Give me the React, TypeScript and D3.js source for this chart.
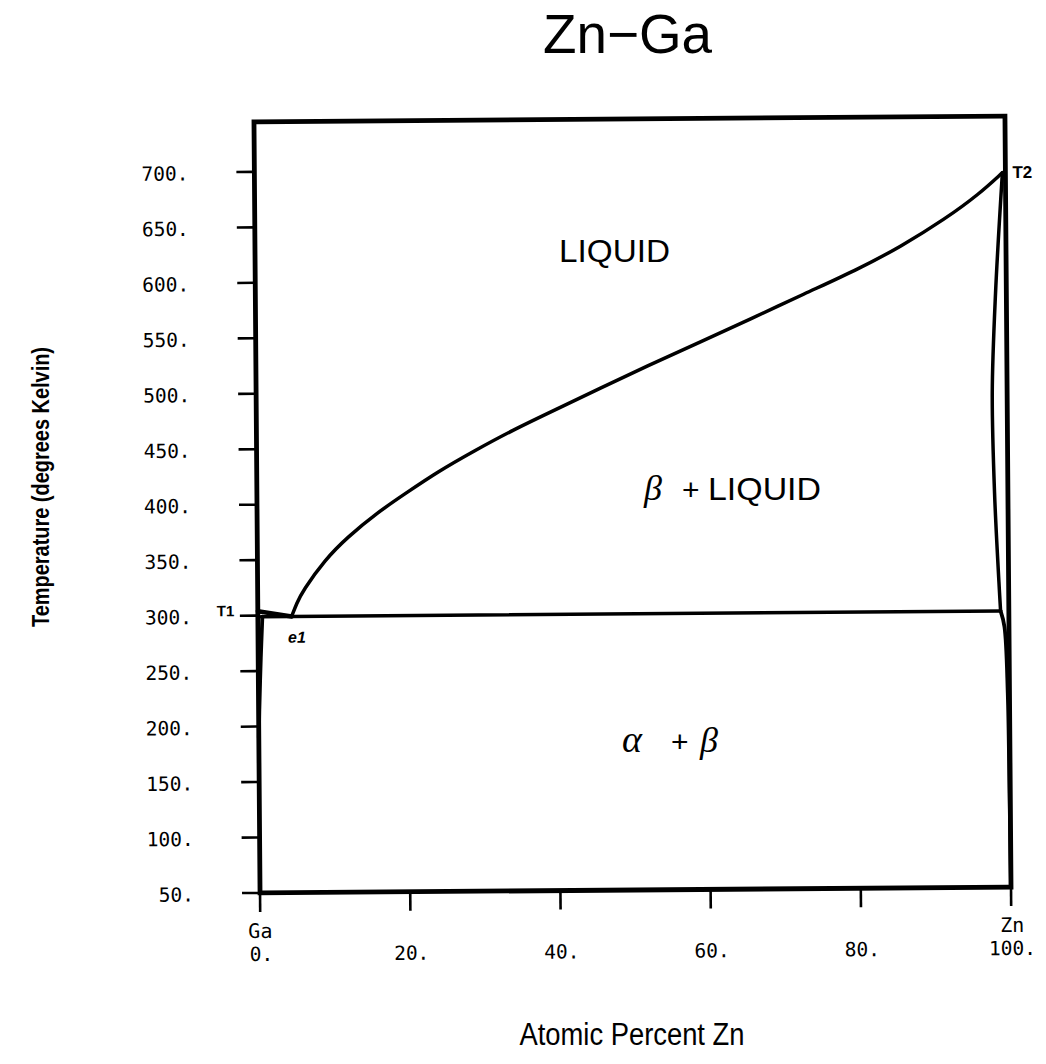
import React from 'react';
import * as d3 from 'd3';

// ---- data (atomic % Zn, temperature K) ----
const xTicks = [0, 20, 40, 60, 80, 100];
const yTicks = [50, 100, 150, 200, 250, 300, 350, 400, 450, 500, 550, 600, 650, 700];
const xEndNames = ['Ga', 'Zn'];

const liquidusZn: [number, number][] = [
  [4.5, 299], [5.2, 311], [6, 322], [9, 350], [12, 370], [16, 392], [20, 410], [24, 428],
  [29, 447], [34, 465], [40, 484], [46, 503], [52, 522], [59, 543], [66, 564],
  [73, 586], [80, 607], [86, 628], [92, 653], [96.5, 675], [99.6, 694],
];
const liquidusGa: [number, number][] = [[0, 304], [4.5, 299]];
const eutectic: [number, number][] = [[0.4, 299], [98.9, 299]];
const solidusZn: [number, number][] = [
  [99.6, 694], [98.56, 585.5], [98.02, 495.5], [98.22, 405.3], [98.78, 315.1], [98.9, 299],
];
const solvusZn: [number, number][] = [
  [98.9, 299], [99.4, 284.7], [99.77, 224.8], [99.9, 134.8], [100, 50],
];
const solvusGa: [number, number][] = [[0.6, 299], [0.35, 262], [0.1, 215], [0, 190]];

const W = 1046;
const H = 1064;
const xS = d3.scaleLinear().domain([0, 100]).range([257, 1008]);
const yS = d3.scaleLinear().domain([50, 745]).range([890, 119]);

const smoothGen = d3
  .line<[number, number]>()
  .x((d) => xS(d[0]))
  .y((d) => yS(d[1]))
  .curve(d3.curveBasis);
const lineGen = d3
  .line<[number, number]>()
  .x((d) => xS(d[0]))
  .y((d) => yS(d[1]))
  .curve(d3.curveCatmullRom.alpha(0.5));
const straight = d3
  .line<[number, number]>()
  .x((d) => xS(d[0]))
  .y((d) => yS(d[1]));

const mono = '"DejaVu Sans Mono", monospace';
const sans = '"Liberation Sans", Arial, sans-serif';
const serif = '"Liberation Serif", "DejaVu Serif", serif';

export default function App() {
  const [x0, x1] = xS.range();
  const [yb, yt] = yS.range();
  return (
    <svg
      width={W}
      height={H}
      viewBox={`0 0 ${W} ${H}`}
      style={{ position: 'absolute', left: 0, top: 0, background: '#fff' }}
    >
      <rect x={0} y={0} width={W} height={H} fill="#fff" />
      <g transform="rotate(-0.45 632 505)">
        {/* frame */}
        <rect x={x0} y={yt} width={x1 - x0} height={yb - yt} fill="none" stroke="#000" strokeWidth={4.8} />
        {/* y ticks */}
        {yTicks.map((t) => (
          <g key={'y' + t}>
            <line x1={x0} x2={x0 - 18} y1={yS(t)} y2={yS(t)} stroke="#000" strokeWidth={2.6} />
            <text x={191} y={yS(t) + 8} textAnchor="end" fontFamily={mono} fontSize={19.5} fill="#000">
              {`${t}.`}
            </text>
          </g>
        ))}
        {/* x ticks */}
        {xTicks.map((t) => (
          <g key={'x' + t}>
            <line x1={xS(t)} x2={xS(t)} y1={yb} y2={yb + 19} stroke="#000" strokeWidth={2.6} />
            <text x={xS(t) + 1} y={958} textAnchor="middle" fontFamily={mono} fontSize={19.5} fill="#000">
              {`${t}.`}
            </text>
          </g>
        ))}
        <text x={xS(0)} y={935} textAnchor="middle" fontFamily={mono} fontSize={20} fill="#000">
          {xEndNames[0]}
        </text>
        <text x={xS(100) + 1} y={935} textAnchor="middle" fontFamily={mono} fontSize={20} fill="#000">
          {xEndNames[1]}
        </text>

        {/* phase boundaries */}
        <g fill="none" stroke="#000" strokeWidth={3.5} strokeLinejoin="round" strokeLinecap="round">
          <path d={smoothGen(liquidusZn) || ''} />
          <path d={straight(liquidusGa) || ''} strokeWidth={4.5} />
          <path d={straight(eutectic) || ''} />
          <path d={lineGen(solidusZn) || ''} />
          <path d={lineGen(solvusZn) || ''} strokeWidth={3.8} />
          <path d={lineGen(solvusGa) || ''} strokeWidth={3.8} />
        </g>

        {/* point labels */}
        <text x={233.5} y={613} textAnchor="end" fontFamily={sans} fontWeight="bold" fontSize={15} fill="#000">
          T1
        </text>
        <text x={1015} y={181} fontFamily={sans} fontWeight="bold" fontSize={17} fill="#000">
          T2
        </text>
        <text x={287} y={640} fontFamily={sans} fontWeight="bold" fontStyle="italic" fontSize={16} fill="#000">
          e1
        </text>
      </g>

      {/* region labels */}
      <text x={559} y={262} fontFamily={sans} fontSize={32} textLength={111} lengthAdjust="spacingAndGlyphs" fill="#000">
        LIQUID
      </text>
      <text x={644} y={500} fontFamily={serif} fontStyle="italic" fontSize={36} fill="#000">
        β
      </text>
      <text x={682} y={500} fontFamily={sans} fontSize={30} fill="#000">
        +
      </text>
      <text x={708} y={500} fontFamily={sans} fontSize={32} textLength={113} lengthAdjust="spacingAndGlyphs" fill="#000">
        LIQUID
      </text>
      <text x={622} y={752} fontFamily={serif} fontStyle="italic" fontSize={38} fill="#000">
        α
      </text>
      <text x={671} y={752} fontFamily={sans} fontSize={30} fill="#000">
        +
      </text>
      <text x={700} y={752} fontFamily={serif} fontStyle="italic" fontSize={36} fill="#000">
        β
      </text>

      {/* titles */}
      <text x={627.5} y={53} textAnchor="middle" fontFamily={sans} fontSize={55} textLength={169} lengthAdjust="spacingAndGlyphs" fill="#000">
        Zn−Ga
      </text>
      <text x={632} y={1045} textAnchor="middle" fontFamily={sans} fontSize={31} textLength={225} lengthAdjust="spacingAndGlyphs" fill="#000">
        Atomic Percent Zn
      </text>
      <text
        transform="translate(49 487) rotate(-90)"
        textAnchor="middle"
        fontFamily={'"Liberation Sans Narrow", "Liberation Sans", sans-serif'}
        fontWeight="bold"
        fontSize={23}
        textLength={280}
        lengthAdjust="spacingAndGlyphs"
        fill="#000"
      >
        Temperature (degrees Kelvin)
      </text>
    </svg>
  );
}
